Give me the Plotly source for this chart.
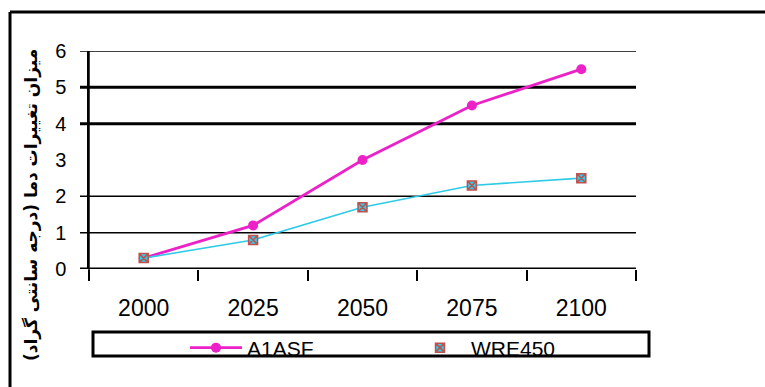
import plotly.graph_objects as go

years = ["2000", "2025", "2050", "2075", "2100"]
a1asf = [0.3, 1.2, 3.0, 4.5, 5.5]
wre450 = [0.3, 0.8, 1.7, 2.3, 2.5]
y_ticks = [0, 1, 2, 3, 4, 5, 6]
grid_levels = [6, 5, 4, 2, 1, 0]
grid_widths = [1.5, 3, 3, 1.5, 1.5, 3]
y_title = "میزان تغییرات دما (درجه سانتی گراد)"

PINK = "#EC22C8"
CYAN = "#2FCBE6"
BROWN = "#C0504D"

W, H = 765, 387
L, R, T, B = 89, 129, 51, 118
pw = W - L - R
ph = H - T - B

def px(x):
    return (x - L) / pw

def py(y):
    return (H - B - y) / ph

fig = go.Figure()
fig.add_trace(go.Scatter(
    x=years, y=a1asf, name="A1ASF", mode="lines+markers",
    line=dict(color=PINK, width=2.8),
    marker=dict(symbol="circle", size=10, color=PINK),
))
fig.add_trace(go.Scatter(
    x=years, y=wre450, mode="lines", showlegend=False,
    line=dict(color=CYAN, width=1.6), hoverinfo="skip",
))
fig.add_trace(go.Scatter(
    x=years, y=wre450, name="WRE450", mode="markers",
    marker=dict(symbol="square-x", size=9, color=CYAN,
                line=dict(color=BROWN, width=1.5)),
))

shapes = []
for lv, wd in zip(grid_levels, grid_widths):
    shapes.append(dict(type="line", xref="paper", yref="y",
                       x0=px(80), x1=1, y0=lv, y1=lv,
                       line=dict(color="black", width=wd), layer="below"))
# y axis line extension below zero
shapes.append(dict(type="line", xref="paper", yref="paper",
                   x0=0, x1=0, y0=py(280), y1=1,
                   line=dict(color="black", width=1.5)))
# outer frame (top & left visible)
shapes.append(dict(type="line", xref="paper", yref="paper",
                   x0=px(10), x1=px(800), y0=py(12), y1=py(12),
                   line=dict(color="black", width=3)))
shapes.append(dict(type="line", xref="paper", yref="paper",
                   x0=px(10), x1=px(10), y0=py(12), y1=py(400),
                   line=dict(color="black", width=3)))
# legend frame
shapes.append(dict(type="rect", xref="paper", yref="paper",
                   x0=px(93), x1=px(649), y0=py(356), y1=py(332),
                   line=dict(color="black", width=3), fillcolor="rgba(0,0,0,0)"))

fig.update_layout(
    width=W, height=H,
    margin=dict(l=L, r=R, t=T, b=B, pad=0, autoexpand=False),
    paper_bgcolor="white", plot_bgcolor="white",
    shapes=shapes,
    showlegend=True,
    legend=dict(orientation="h", x=px(185), xanchor="left",
                y=py(348), yanchor="middle",
                font=dict(family="Liberation Sans", size=21, color="black"),
                bgcolor="rgba(0,0,0,0)", borderwidth=0,
                itemwidth=52, entrywidth=157, entrywidthmode="pixels",
                traceorder="normal"),
    annotations=[dict(text=y_title, textangle=-90, xref="paper", yref="paper",
                      x=px(31), y=py(205), showarrow=False,
                      xanchor="center", yanchor="middle",
                      font=dict(family="DejaVu Sans", size=17, color="black", weight="bold"))],
)
fig.update_xaxes(
    type="category", range=[-0.5, 4.5], showgrid=False,
    showline=False, zeroline=False,
    ticks="outside", tickson="boundaries", ticklen=11, tickwidth=1.5, tickcolor="black",
    ticklabelstandoff=23,
    tickfont=dict(family="Liberation Sans", size=23, color="black"),
)
fig.update_yaxes(
    range=[0, 6], tickvals=y_ticks, showgrid=False, zeroline=False,
    showline=True, linecolor="black", linewidth=1.5,
    ticks="", ticklabelstandoff=17,
    tickfont=dict(family="Liberation Sans", size=20, color="black"),
)
fig.write_html("out.html")
